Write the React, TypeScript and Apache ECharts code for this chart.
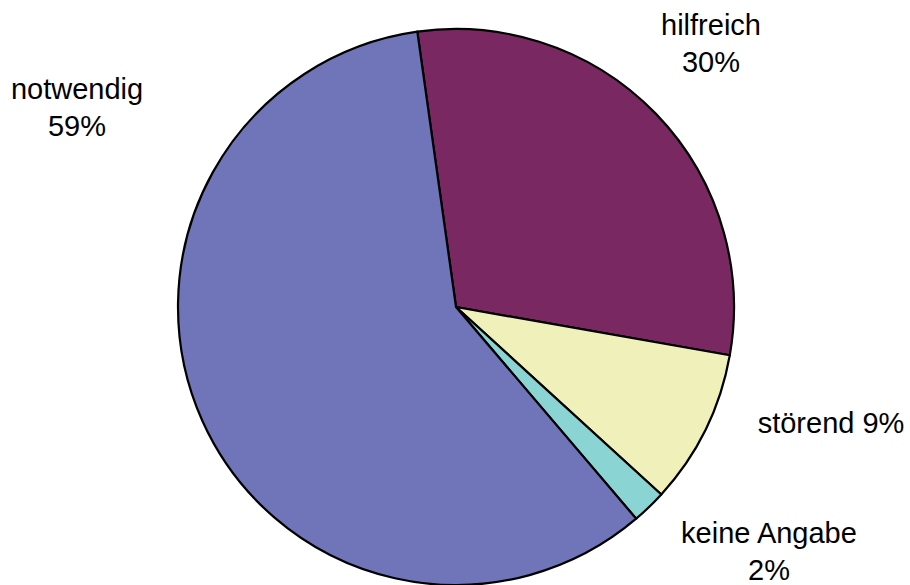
import React, { useEffect, useRef } from "react";
import * as echarts from "echarts";

const categories = ["hilfreich", "störend", "keine Angabe", "notwendig"];
const values = [30, 9, 2, 59];
const colors = ["#7A2862", "#F0F0BA", "#8AD4D4", "#6F75B8"];
const labelFormats = ["{b}\n{d}%", "{b} {d}%", "{b}\n{d}%", "{b}\n{d}%"];
const labelPositions = [
  [711, 43],
  [831, 423],
  [769, 551],
  [77, 107],
];

export default function App() {
  const ref = useRef<HTMLDivElement>(null);
  useEffect(() => {
    if (!ref.current) return;
    const chart = echarts.init(ref.current, null, { renderer: "svg" });
    chart.setOption({
      animation: false,
      backgroundColor: "#ffffff",
      series: [
        {
          type: "pie",
          center: [456, 307],
          radius: 278,
          startAngle: 98,
          clockwise: true,
          avoidLabelOverlap: false,
          data: categories.map((name, i) => ({
            name,
            value: values[i],
            itemStyle: { color: colors[i] },
            label: {
              formatter: (p: any) =>
                labelFormats[i].replace("{b}", p.name).replace("{d}", String(Math.round(p.percent))),
            },
          })),
          itemStyle: { borderColor: "#000000", borderWidth: 2.2 },
          label: {
            show: true,
            position: "outside",
            color: "#000000",
            fontSize: 29,
            lineHeight: 37,
            fontFamily: "Liberation Sans, Arial, sans-serif",
            align: "center",
          },
          labelLine: { show: false },
          labelLayout: (params: any) => {
            const p = labelPositions[params.dataIndex];
            return { x: p[0], y: p[1], align: "center", verticalAlign: "middle" };
          },
          emphasis: { disabled: true },
        },
      ],
    });
    return () => chart.dispose();
  }, []);
  return (
    <div
      ref={ref}
      style={{ position: "fixed", left: 0, top: 0, width: 910, height: 585 }}
    />
  );
}
